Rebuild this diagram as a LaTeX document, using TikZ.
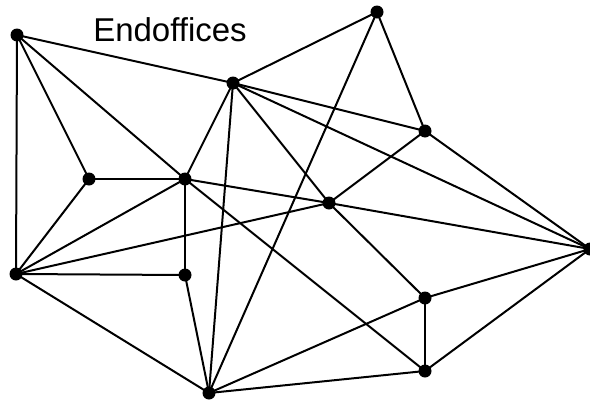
\documentclass[tikz,border=0pt]{standalone}
\usepackage{fontspec}
\setmainfont{Liberation Sans}
\begin{document}
\begin{tikzpicture}[x=1pt,y=-1pt,
  dot/.style={circle,fill=black,inner sep=0pt,minimum size=13pt},
  edge/.style={line width=2pt,line cap=round}]
\useasboundingbox (0,0) rectangle (590,402);
\node[anchor=base,font=\fontsize{33}{38}\selectfont,inner sep=0pt] (title) at (170,41) {Endoffices};
\node[dot] (A) at (17,35) {};
\node[dot] (B) at (377,12) {};
\node[dot] (C) at (233,83) {};
\node[dot] (D) at (425,131) {};
\node[dot] (E) at (89,179) {};
\node[dot] (F) at (185,179) {};
\node[dot] (G) at (329,203) {};
\node[dot] (H) at (590,249) {};
\node[dot] (I) at (16,274) {};
\node[dot] (J) at (185,275) {};
\node[dot] (K) at (425,298) {};
\node[dot] (L) at (425,371) {};
\node[dot] (M) at (209,393) {};
\foreach \a/\b in {A/I,A/E,A/F,A/C,B/C,B/D,B/M,C/D,C/H,C/G,C/F,C/M,D/G,D/H,E/F,E/I,F/J,F/I,F/G,F/L,G/H,G/I,G/K,H/K,H/L,I/J,I/M,J/M,K/L,K/M,L/M}
  \draw[edge] (\a.center) -- (\b.center);
\end{tikzpicture}
\end{document}
